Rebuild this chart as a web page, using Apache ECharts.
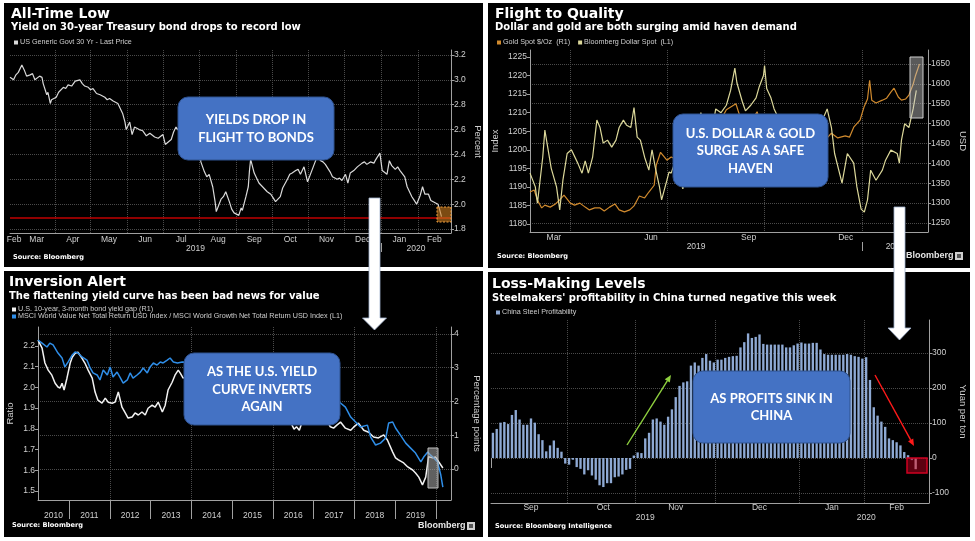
<!DOCTYPE html>
<html><head><meta charset="utf-8">
<script src="https://cdn.jsdelivr.net/npm/echarts@6.0.0/dist/echarts.min.js"></script>
<style>html,body{margin:0;padding:0;background:#fff}#c{width:975px;height:541px}</style>
</head><body><div id="c"></div>
<script>
// ---------------- DATA ----------------
// Panel 1: US Generic Govt 30 Yr yield (%)
const tlYield = [
['2019-02-22',3.02],['2019-02-25',3.00],['2019-02-27',3.04],['2019-03-01',3.06],['2019-03-04',3.12],['2019-03-06',3.08],['2019-03-08',3.03],['2019-03-11',3.04],['2019-03-13',3.05],['2019-03-15',3.00],['2019-03-19',3.03],['2019-03-21',3.02],['2019-03-22',2.97],['2019-03-25',2.88],['2019-03-26',2.90],['2019-03-28',2.81],['2019-03-29',2.84],['2019-04-02',2.86],['2019-04-04',2.90],['2019-04-08',2.94],['2019-04-10',2.93],['2019-04-12',2.96],['2019-04-15',2.95],['2019-04-18',2.99],['2019-04-22',3.00],['2019-04-24',2.97],['2019-04-26',2.95],['2019-04-29',2.94],['2019-05-01',2.92],['2019-05-03',2.93],['2019-05-06',2.89],['2019-05-09',2.88],['2019-05-13',2.86],['2019-05-15',2.84],['2019-05-17',2.85],['2019-05-20',2.83],['2019-05-22',2.82],['2019-05-24',2.81],['2019-05-28',2.73],['2019-05-30',2.66],['2019-05-31',2.60],['2019-06-03',2.66],['2019-06-05',2.56],['2019-06-07',2.62],['2019-06-11',2.60],['2019-06-14',2.59],['2019-06-17',2.55],['2019-06-20',2.57],['2019-06-24',2.54],['2019-06-27',2.53],['2019-07-01',2.56],['2019-07-03',2.48],['2019-07-08',2.52],['2019-07-10',2.58],['2019-07-12',2.62],['2019-07-17',2.56],['2019-07-19',2.60],['2019-07-24',2.62],['2019-07-26',2.59],['2019-07-30',2.55],['2019-08-01',2.48],['2019-08-02',2.34],['2019-08-05',2.26],['2019-08-07',2.22],['2019-08-09',2.24],['2019-08-12',2.14],['2019-08-14',2.02],['2019-08-15',1.94],['2019-08-19',2.04],['2019-08-21',2.06],['2019-08-23',2.10],['2019-08-26',2.02],['2019-08-28',1.96],['2019-08-30',1.93],['2019-09-03',1.91],['2019-09-05',1.97],['2019-09-06',1.95],['2019-09-09',2.06],['2019-09-11',2.14],['2019-09-12',2.27],['2019-09-13',2.36],['2019-09-16',2.25],['2019-09-18',2.21],['2019-09-20',2.17],['2019-09-23',2.14],['2019-09-25',2.12],['2019-09-27',2.10],['2019-09-30',2.08],['2019-10-02',2.05],['2019-10-04',2.02],['2019-10-08',2.06],['2019-10-10',2.13],['2019-10-14',2.20],['2019-10-16',2.24],['2019-10-18',2.25],['2019-10-21',2.27],['2019-10-23',2.28],['2019-10-25',2.24],['2019-10-28',2.30],['2019-10-31',2.18],['2019-11-04',2.28],['2019-11-06',2.33],['2019-11-08',2.38],['2019-11-11',2.35],['2019-11-13',2.34],['2019-11-15',2.32],['2019-11-19',2.26],['2019-11-21',2.22],['2019-11-25',2.20],['2019-11-27',2.21],['2019-11-29',2.19],['2019-12-02',2.24],['2019-12-04',2.17],['2019-12-06',2.25],['2019-12-09',2.27],['2019-12-12',2.30],['2019-12-16',2.33],['2019-12-18',2.34],['2019-12-20',2.32],['2019-12-23',2.34],['2019-12-26',2.33],['2019-12-27',2.35],['2019-12-31',2.41],['2020-01-02',2.27],['2020-01-06',2.24],['2020-01-08',2.35],['2020-01-10',2.31],['2020-01-13',2.28],['2020-01-15',2.30],['2020-01-17',2.27],['2020-01-21',2.22],['2020-01-23',2.14],['2020-01-27',2.06],['2020-01-29',2.03],['2020-01-31',2.00],['2020-02-03',2.07],['2020-02-05',2.14],['2020-02-07',2.08],['2020-02-10',2.08],['2020-02-12',2.03],['2020-02-14',2.02],['2020-02-18',2.00],['2020-02-19',1.97],['2020-02-21',1.90]
];
const tlRecordLine = 1.886;
const tlYTicks = [1.8,2.0,2.2,2.4,2.6,2.8,3.0,3.2];
const tlMonthTicks = ['2019-02','2019-03','2019-04','2019-05','2019-06','2019-07','2019-08','2019-09','2019-10','2019-11','2019-12','2020-01','2020-02'];
const tlGridDates = ['2019-04-01','2019-05-01','2019-06-01','2019-07-01','2019-08-01','2019-09-01','2019-10-01','2019-11-01','2019-12-01','2020-01-01','2020-02-01'];
const tlYears = [2019,2020];

// Panel 2: Gold spot (USD, R1) and Bloomberg Dollar Spot (index, L1)
const trGold = [
['2019-02-22',1328],['2019-02-26',1333],['2019-03-01',1308],['2019-03-05',1288],['2019-03-08',1295],['2019-03-13',1290],['2019-03-18',1298],['2019-03-22',1308],['2019-03-26',1320],['2019-04-01',1300],['2019-04-05',1295],['2019-04-10',1300],['2019-04-15',1290],['2019-04-19',1283],['2019-04-24',1288],['2019-04-29',1288],['2019-05-03',1280],['2019-05-08',1290],['2019-05-13',1298],['2019-05-17',1283],['2019-05-22',1278],['2019-05-27',1283],['2019-05-31',1293],['2019-06-05',1318],['2019-06-10',1313],['2019-06-14',1328],['2019-06-19',1345],['2019-06-21',1396],['2019-06-25',1428],['2019-07-01',1408],['2019-07-05',1416],['2019-07-10',1410],['2019-07-18',1445],['2019-07-25',1425],['2019-08-01',1440],['2019-08-07',1500],['2019-08-13',1515],['2019-08-20',1505],['2019-08-26',1535],['2019-09-04',1550],['2019-09-10',1500],['2019-09-18',1505],['2019-09-24',1530],['2019-09-30',1472],['2019-10-07',1495],['2019-10-15',1480],['2019-10-25',1505],['2019-11-01',1512],['2019-11-08',1460],['2019-11-14',1470],['2019-11-22',1462],['2019-11-29',1464],['2019-12-03',1476],['2019-12-09',1464],['2019-12-16',1469],['2019-12-20',1466],['2019-12-24',1491],['2019-12-30',1509],['2020-01-03',1544],['2020-01-06',1562],['2020-01-08',1609],['2020-01-10',1559],['2020-01-14',1552],['2020-01-20',1559],['2020-01-24',1564],['2020-01-28',1579],['2020-01-31',1589],['2020-02-04',1567],['2020-02-07',1559],['2020-02-11',1562],['2020-02-14',1572],['2020-02-18',1599],['2020-02-20',1619],['2020-02-24',1650]
];
const trDollar = [
['2019-02-22',1193.7],['2019-02-27',1190.0],['2019-03-01',1185.6],['2019-03-06',1198.0],['2019-03-08',1205.3],['2019-03-14',1195.0],['2019-03-19',1190.0],['2019-03-22',1183.8],['2019-03-25',1191.8],['2019-03-29',1199.0],['2019-04-02',1200.0],['2019-04-08',1196.4],['2019-04-12',1193.7],['2019-04-15',1197.0],['2019-04-18',1193.7],['2019-04-22',1198.0],['2019-04-26',1208.0],['2019-04-29',1206.0],['2019-05-02',1201.8],['2019-05-06',1202.6],['2019-05-10',1200.7],['2019-05-14',1202.6],['2019-05-17',1206.0],['2019-05-21',1208.0],['2019-05-24',1206.6],['2019-05-28',1206.0],['2019-05-31',1211.4],['2019-06-03',1203.4],['2019-06-06',1202.6],['2019-06-10',1198.0],['2019-06-14',1194.5],['2019-06-17',1200.0],['2019-06-20',1195.3],['2019-06-24',1190.0],['2019-06-26',1186.5],['2019-07-01',1191.8],['2019-07-03',1194.0],['2019-07-05',1193.7],['2019-07-09',1197.0],['2019-07-12',1194.0],['2019-07-16',1189.5],['2019-07-19',1193.0],['2019-07-24',1199.0],['2019-07-29',1203.0],['2019-08-02',1210.0],['2019-08-06',1205.0],['2019-08-09',1208.0],['2019-08-13',1206.0],['2019-08-16',1211.0],['2019-08-21',1210.0],['2019-08-26',1212.0],['2019-08-30',1216.0],['2019-09-03',1222.0],['2019-09-05',1218.0],['2019-09-10',1213.0],['2019-09-13',1210.5],['2019-09-18',1212.0],['2019-09-23',1214.0],['2019-09-26',1217.0],['2019-09-30',1220.0],['2019-10-01',1222.7],['2019-10-03',1216.5],['2019-10-07',1214.0],['2019-10-10',1211.0],['2019-10-15',1208.0],['2019-10-18',1204.0],['2019-10-23',1205.0],['2019-10-28',1203.0],['2019-10-31',1200.0],['2019-11-05',1204.0],['2019-11-12',1207.0],['2019-11-19',1206.0],['2019-11-26',1209.0],['2019-11-29',1211.0],['2019-12-03',1206.0],['2019-12-06',1199.0],['2019-12-13',1191.0],['2019-12-18',1199.0],['2019-12-24',1196.4],['2019-12-27',1190.0],['2019-12-31',1184.0],['2020-01-03',1183.2],['2020-01-06',1186.5],['2020-01-09',1194.5],['2020-01-14',1191.8],['2020-01-20',1194.5],['2020-01-23',1197.2],['2020-01-28',1199.9],['2020-02-03',1199.0],['2020-02-05',1196.4],['2020-02-07',1202.6],['2020-02-10',1207.0],['2020-02-14',1206.0],['2020-02-18',1211.0],['2020-02-21',1216.0]
];
const trLeftTicks = [1180,1185,1190,1195,1200,1205,1210,1215,1220,1225];
const trRightTicks = [1250,1300,1350,1400,1450,1500,1550,1600,1650];
const trMonthTicks = ['2019-03','2019-06','2019-09','2019-12'];
const trGridDates = ['2019-04-01','2019-07-01','2019-10-01','2020-01-01'];
const trYears = [2019,2020];

// Panel 3: 10y-3m yield gap (pp, R1) and MSCI Value/Growth ratio (L1), x = decimal year
const blGap = [
[2010.24,3.82],[2010.34,3.58],[2010.41,3.14],[2010.49,2.93],[2010.58,2.78],[2010.66,2.54],[2010.73,2.43],[2010.78,2.40],[2010.83,2.54],[2010.88,2.34],[2010.95,2.69],[2011.03,3.14],[2011.08,3.31],[2011.15,3.43],[2011.22,3.46],[2011.32,3.28],[2011.39,3.14],[2011.47,2.93],[2011.57,2.69],[2011.64,2.28],[2011.71,2.04],[2011.81,1.95],[2011.89,2.10],[2011.96,1.98],[2012.06,1.95],[2012.13,1.98],[2012.21,2.28],[2012.30,1.83],[2012.38,1.66],[2012.45,1.51],[2012.55,1.54],[2012.62,1.66],[2012.70,1.60],[2012.79,1.69],[2012.87,1.60],[2012.94,1.80],[2013.04,1.89],[2013.11,1.83],[2013.19,1.98],[2013.29,1.69],[2013.36,1.89],[2013.43,2.34],[2013.53,2.57],[2013.60,2.78],[2013.68,2.93],[2013.73,2.84],[2013.80,2.69],[2013.90,2.75],[2014.00,2.90],[2014.20,2.70],[2014.40,2.55],[2014.60,2.40],[2014.80,2.25],[2015.00,1.95],[2015.20,1.90],[2015.40,2.20],[2015.60,2.10],[2015.80,2.05],[2016.00,1.95],[2016.20,1.65],[2016.38,1.50],[2016.45,1.35],[2016.52,1.18],[2016.58,1.25],[2016.65,1.15],[2016.72,1.40],[2016.80,1.60],[2016.95,2.15],[2017.10,2.10],[2017.25,1.60],[2017.35,1.38],[2017.41,1.25],[2017.49,1.21],[2017.57,1.30],[2017.66,1.39],[2017.78,1.21],[2017.91,1.15],[2017.98,1.24],[2018.10,1.36],[2018.23,1.15],[2018.35,1.09],[2018.47,0.95],[2018.59,0.92],[2018.72,1.01],[2018.81,0.86],[2018.94,0.50],[2019.01,0.33],[2019.08,0.27],[2019.21,0.18],[2019.31,0.06],[2019.43,-0.03],[2019.50,-0.12],[2019.58,-0.24],[2019.67,-0.47],[2019.75,-0.24],[2019.82,0.36],[2019.92,0.33],[2019.99,0.36],[2020.07,0.21],[2020.17,0.03]
];
const blRatio = [
[2010.24,2.229],[2010.34,2.214],[2010.46,2.195],[2010.53,2.214],[2010.61,2.205],[2010.73,2.166],[2010.83,2.142],[2010.90,2.099],[2010.98,2.123],[2011.08,2.157],[2011.15,2.171],[2011.22,2.166],[2011.32,2.147],[2011.44,2.132],[2011.52,2.094],[2011.59,2.070],[2011.69,2.060],[2011.76,2.036],[2011.84,2.084],[2011.94,2.060],[2012.01,2.099],[2012.08,2.050],[2012.18,2.074],[2012.25,2.050],[2012.33,2.021],[2012.43,2.036],[2012.50,2.070],[2012.57,2.045],[2012.67,2.060],[2012.75,2.074],[2012.82,2.094],[2012.92,2.070],[2012.99,2.099],[2013.07,2.118],[2013.16,2.108],[2013.24,2.123],[2013.31,2.118],[2013.41,2.132],[2013.48,2.142],[2013.56,2.123],[2013.66,2.118],[2013.78,2.123],[2014.00,2.120],[2014.30,2.100],[2014.60,2.110],[2014.90,2.070],[2015.20,2.050],[2015.50,2.020],[2015.80,1.990],[2016.10,1.970],[2016.40,1.940],[2016.70,1.960],[2016.90,2.020],[2017.10,2.010],[2017.30,1.970],[2017.50,1.940],[2017.66,1.925],[2017.78,1.905],[2017.91,1.857],[2018.03,1.833],[2018.15,1.809],[2018.32,1.818],[2018.40,1.760],[2018.52,1.722],[2018.64,1.731],[2018.77,1.756],[2018.84,1.828],[2018.94,1.833],[2019.01,1.804],[2019.13,1.770],[2019.26,1.731],[2019.38,1.707],[2019.50,1.683],[2019.63,1.640],[2019.70,1.664],[2019.80,1.688],[2019.87,1.673],[2019.95,1.659],[2020.04,1.640],[2020.12,1.577],[2020.17,1.519]
];
const blLeftTicks = [1.5,1.6,1.7,1.8,1.9,2.0,2.1,2.2];
const blRightTicks = [0,1,2,3,4];
const blLabelYears = [2010,2011,2012,2013,2014,2015,2016,2017,2018,2019];
const blYearTicks = [2011,2012,2013,2014,2015,2016,2017,2018,2019,2020];
const blGridYears = [2012,2014,2016,2018,2020];

// Panel 4: China steel profitability (yuan per ton), one bar per trading day
const brMonths = [['Sep',2019,20],['Oct',2019,18],['Nov',2019,21],['Dec',2019,22],['Jan',2020,17],['Feb',2020,14]];
const brPadSlots = 3;
const brProfit = [72,83,101,103,97,123,137,110,95,95,113,101,68,51,19,36,50,29,18,-16,
 -19,-5,-26,-31,-47,-35,-50,-62,-78,-83,-72,-72,-55,-53,-47,-34,-31,7,
 16,14,56,72,110,113,104,95,118,139,174,206,216,219,264,273,264,286,297,278,273,
 281,281,286,289,291,292,316,331,356,343,346,353,326,324,324,324,324,324,316,316,322,327,
 330,327,327,329,329,310,297,295,295,295,295,295,297,295,291,289,284,
 288,223,145,121,104,89,56,51,45,36,17,8,-6,-32];
const brYTicks = [-100,0,100,200,300];

// ---------------- HELPERS ----------------
const MONTHS = ['Jan','Feb','Mar','Apr','May','Jun','Jul','Aug','Sep','Oct','Nov','Dec'];
const T = s => Date.parse(s);
const midSpan = (s,e,min,max) => (Math.max(s,min)+Math.min(e,max))/2;
function monthLabels(list,min,max){const pos=[],map=new Map();list.forEach(ym=>{const [y,m]=ym.split('-').map(Number);const p=midSpan(Date.UTC(y,m-1,1),Date.UTC(y,m,1),min,max);pos.push(p);map.set(p,MONTHS[m-1]);});return {pos,map};}
function yearLabels(list,min,max){const pos=[],map=new Map();list.forEach(y=>{const p=midSpan(Date.UTC(y,0,1),Date.UTC(y+1,0,1),min,max);pos.push(p);map.set(p,String(y));});return {pos,map};}

const AX='#a0a0a0', LBL='#cfcfcf', GRIDC='#4a4a4a';
const FONT='"Liberation Sans", Arial, sans-serif';
const TFONT='"DejaVu Sans", sans-serif';
const gridStyle={color:GRIDC,type:'dotted',width:1};
const baseLabel={color:LBL,fontSize:8.5,fontFamily:FONT};

const tlMin=T('2019-02-22'), tlMax=T('2020-02-29');
const trMin=T('2019-02-22'), trMax=T('2020-03-03');
const blMin=2010.24, blMax=2020.37;

const tlM=monthLabels(tlMonthTicks,tlMin,tlMax), tlY=yearLabels(tlYears,tlMin,tlMax);
const trM=monthLabels(trMonthTicks,trMin,trMax), trY=yearLabels(trYears,trMin,trMax);
const tlGrid=tlGridDates.map(T), trGrid=trGridDates.map(T);
const tlSep=[Date.UTC(2020,0,1)], trSep=[Date.UTC(2020,0,1)];
const blLab=new Map(); const blLabPos=blLabelYears.map(y=>{const p=(Math.max(y,blMin)+Math.min(y+1,blMax))/2; blLab.set(p,String(y)); return p;});

// BR categories
const brCats=[], brMonthStart=new Set(), brLabelIdx=new Set(), brYearLabelIdx=new Set(), brYearSep=new Set();
const yearSpan={};
brMonths.forEach((mm,k)=>{const n=mm[2]+(k===brMonths.length-1?brPadSlots:0);const s=brCats.length;brMonthStart.add(s);brLabelIdx.add(s+Math.floor(n/2));
 if(!yearSpan[mm[1]]) {yearSpan[mm[1]]=[s,s]; if(s>0) brYearSep.add(s);}
 for(let j=0;j<n;j++) brCats.push(mm[0]+'|'+mm[1]+'|'+j);
 yearSpan[mm[1]][1]=brCats.length-1;});
Object.values(yearSpan).forEach(r=>brYearLabelIdx.add(Math.round((r[0]+r[1])/2)));

function yAx(grid,pos,min,max,ticks,step,fmt,split,opt){
 return Object.assign({type:'value',gridIndex:grid,position:pos,min,max,minInterval:step,maxInterval:step,
  axisLine:{show:true,onZero:false,lineStyle:{color:AX}},
  axisTick:{show:true,length:3,customValues:ticks,lineStyle:{color:AX}},
  axisLabel:Object.assign({},baseLabel,{margin:3,customValues:ticks,formatter:fmt}),
  splitLine:split?{show:true,customValues:ticks,lineStyle:gridStyle}:{show:false},
  nameLocation:'middle',nameTextStyle:{color:LBL,fontSize:9.5,fontFamily:FONT}},opt||{});
}

const xAxes=[
 {type:'value',gridIndex:0,position:'bottom',min:tlMin,max:tlMax,
  axisLine:{show:true,onZero:false,lineStyle:{color:AX}},axisTick:{show:false,customValues:tlGrid},
  splitLine:{show:true,customValues:tlGrid,lineStyle:gridStyle},
  axisLabel:Object.assign({},baseLabel,{margin:2,customValues:tlM.pos,formatter:v=>tlM.map.get(v)||''})},
 {type:'value',gridIndex:0,position:'bottom',offset:10,min:tlMin,max:tlMax,
  axisLine:{show:false},axisTick:{show:true,length:9,customValues:tlSep,lineStyle:{color:AX}},splitLine:{show:false},
  axisLabel:Object.assign({},baseLabel,{margin:1,customValues:tlY.pos,formatter:v=>tlY.map.get(v)||''})},
 {type:'value',gridIndex:1,position:'bottom',min:trMin,max:trMax,
  axisLine:{show:true,onZero:false,lineStyle:{color:AX}},axisTick:{show:false,customValues:trGrid},
  splitLine:{show:true,customValues:trGrid,lineStyle:gridStyle},
  axisLabel:Object.assign({},baseLabel,{margin:1,customValues:trM.pos,formatter:v=>trM.map.get(v)||''})},
 {type:'value',gridIndex:1,position:'bottom',offset:10,min:trMin,max:trMax,
  axisLine:{show:false},axisTick:{show:true,length:9,customValues:trSep,lineStyle:{color:AX}},splitLine:{show:false},
  axisLabel:Object.assign({},baseLabel,{margin:0,customValues:trY.pos,formatter:v=>trY.map.get(v)||''})},
 {type:'value',gridIndex:2,position:'bottom',min:blMin,max:blMax,
  axisLine:{show:true,onZero:false,lineStyle:{color:AX}},axisTick:{show:true,length:19,customValues:blYearTicks,lineStyle:{color:AX}},
  splitLine:{show:false},
  axisLabel:Object.assign({},baseLabel,{margin:11,customValues:blLabPos,formatter:v=>blLab.get(v)||''})},
 {type:'value',gridIndex:2,position:'bottom',min:blMin,max:blMax,
  axisLine:{show:false},axisTick:{show:false,customValues:blGridYears},axisLabel:{show:false},
  splitLine:{show:true,customValues:blGridYears,lineStyle:gridStyle}},
 {type:'category',gridIndex:3,position:'bottom',data:brCats,boundaryGap:true,
  axisLine:{show:true,onZero:false,lineStyle:{color:AX}},axisTick:{show:false},
  splitLine:{show:true,interval:(i)=>brMonthStart.has(i)&&i>0,lineStyle:gridStyle},
  axisLabel:Object.assign({},baseLabel,{margin:0,interval:(i)=>brLabelIdx.has(i),formatter:v=>v.split('|')[0]})},
 {type:'category',gridIndex:3,position:'bottom',offset:9,data:brCats,boundaryGap:true,
  axisLine:{show:false},axisTick:{show:true,length:10,interval:(i)=>brYearSep.has(i),lineStyle:{color:AX}},
  splitLine:{show:false},
  axisLabel:Object.assign({},baseLabel,{margin:1,interval:(i)=>brYearLabelIdx.has(i),formatter:v=>v.split('|')[1]})}
];

const yAxes=[
 yAx(0,'right',1.768,3.240,tlYTicks,0.2,v=>v.toFixed(1),true,{name:'Percent',nameRotate:-90,nameGap:22}),
 yAx(1,'left',1177.84,1226.89,trLeftTicks,5,v=>String(v),false,{name:'Index',nameRotate:90,nameGap:30}),
 yAx(1,'right',1227.4,1685.2,trRightTicks,50,v=>String(v),true,{name:'USD',nameRotate:-90,nameGap:30}),
 yAx(2,'left',1.4565,2.2917,blLeftTicks,0.1,v=>v.toFixed(1),false,{name:'Ratio',nameRotate:90,nameGap:23}),
 yAx(2,'right',-0.9185,4.207,blRightTicks,1,v=>String(v),true,{name:'Percentage points',nameRotate:-90,nameGap:21}),
 yAx(3,'right',-128.6,394.3,brYTicks,100,v=>String(v),true,{name:'Yuan per ton',nameRotate:-90,nameGap:29})
];

const N1='US Generic Govt 30 Yr - Last Price', N2='Gold Spot $/Oz  (R1)', N3='Bloomberg Dollar Spot  (L1)',
 N4='U.S. 10-year, 3-month bond yield gap (R1)', N5='MSCI World Value Net Total Return USD Index / MSCI World Growth Net Total Return USD Index (L1)', N6='China Steel Profitability';

const lineBase={type:'line',showSymbol:false,symbol:'none',animation:false,silent:true};
const series=[
 Object.assign({},lineBase,{name:N1,xAxisIndex:0,yAxisIndex:0,data:tlYield.map(d=>[T(d[0]),d[1]]),color:'#d9d9d9',lineStyle:{width:1.2,color:'#d9d9d9'},
  markLine:{silent:true,symbol:['none','none'],label:{show:false},lineStyle:{color:'#c00000',width:1.5,type:'solid'},data:[{yAxis:tlRecordLine}]}}),
 Object.assign({},lineBase,{name:N2,xAxisIndex:2,yAxisIndex:2,data:trGold.map(d=>[T(d[0]),d[1]]),color:'#d08a2e',lineStyle:{width:1.2,color:'#d08a2e'}}),
 Object.assign({},lineBase,{name:N3,xAxisIndex:2,yAxisIndex:1,data:trDollar.map(d=>[T(d[0]),d[1]]),color:'#dcd89a',lineStyle:{width:1.2,color:'#dcd89a'}}),
 Object.assign({},lineBase,{name:N4,xAxisIndex:4,yAxisIndex:4,data:blGap,color:'#f2f2f2',lineStyle:{width:1.5,color:'#f2f2f2'}}),
 Object.assign({},lineBase,{name:N5,xAxisIndex:4,yAxisIndex:3,data:blRatio,color:'#2f8ee8',lineStyle:{width:1.5,color:'#2f8ee8'}}),
 {type:'bar',name:N6,xAxisIndex:6,yAxisIndex:5,data:brProfit,barWidth:'62%',animation:false,silent:true,color:'#8ea9d3',
  itemStyle:{color:p=>p.dataIndex===brProfit.length-1?'#d9cfdc':'#8ea9d3'}}
];

const legBase={icon:'rect',itemWidth:4,itemHeight:4,selectedMode:false,padding:0,itemGap:8,
 textStyle:{color:'#cfcfcf',fontSize:7.2,fontFamily:FONT,padding:[0,0,0,-3]}};
const legends=[
 Object.assign({},legBase,{data:[N1],left:14,top:39}),
 Object.assign({},legBase,{data:[N2,N3],left:497,top:39}),
 Object.assign({},legBase,{data:[N4,N5],left:12,top:306,orient:'vertical',itemGap:0}),
 Object.assign({},legBase,{data:[N6],left:496,top:309})
];

// ---------------- GRAPHICS (frames, titles, annotations) ----------------
const g=[];
const rect=(x,y,w,h,style,z,r)=>g.push({type:'rect',silent:true,z:z||50,shape:{x,y,width:w,height:h,r:r||0},style});
const txt=(x,y,text,font,fill,align,z,lh)=>g.push({type:'text',silent:true,z:z||60,style:{x,y,text,font,fill,textAlign:align||'left',align:align||'left',textVerticalAlign:'middle',verticalAlign:'middle',lineHeight:lh}});
[[0,0,975,3],[0,0,4,541],[970,0,5,541],[0,537,975,4],[483,0,5,541],[0,267,483,4],[488,268,487,4]].forEach(r=>rect(r[0],r[1],r[2],r[3],{fill:'#fff'},50));

const TF='bold 14px '+TFONT, SF='bold 10px '+TFONT, SRC='bold 6.6px '+TFONT;
txt(11,14,'All-Time Low',TF,'#fff');
txt(11,27.5,'Yield on 30-year Treasury bond drops to record low',SF,'#fff');
txt(13,257.5,'Source: Bloomberg',SRC,'#fff');
txt(495,14,'Flight to Quality',TF,'#fff');
txt(495,27.5,'Dollar and gold are both surging amid haven demand',SF,'#fff');
txt(497,256.5,'Source: Bloomberg',SRC,'#fff');
txt(9,282.5,'Inversion Alert',TF,'#fff');
txt(9,296.5,'The flattening yield curve has been bad news for value',SF,'#fff');
txt(12,525.5,'Source: Bloomberg',SRC,'#fff');
txt(492,284,'Loss-Making Levels',TF,'#fff');
txt(492,298,"Steelmakers' profitability in China turned negative this week",SF,'#fff');
txt(495,526.5,'Source: Bloomberg Intelligence',SRC,'#fff');
// Bloomberg marks
function logo(x,y){txt(x,y,'Bloomberg','bold 9px '+FONT,'#e6e6e6');rect(x+49,y-4,8,8,{fill:'#cfcfcf'},60);rect(x+51,y-2,4,4,{fill:'#555'},61);}
logo(906,256); logo(418,526);

// annotation overlays
const BLUE={fill:'#4472c4',stroke:'#2f528f',lineWidth:1};
const BF='bold 13px Lato, "Open Sans", sans-serif';
rect(178,97,156,63,BLUE,100,10); txt(256,129,'YIELDS DROP IN\nFLIGHT TO BONDS',BF,'#fff','center',101,18);
rect(673,114,155,73,BLUE,100,10); txt(750.5,151,'U.S. DOLLAR & GOLD\nSURGE AS A SAFE\nHAVEN',BF,'#fff','center',101,17.5);
rect(184,353,156,72,BLUE,100,10); txt(262,389.5,'AS THE U.S. YIELD\nCURVE INVERTS\nAGAIN',BF,'#fff','center',101,17.5);
rect(693,371,157,72,BLUE,100,10); txt(771.5,407,'AS PROFITS SINK IN\nCHINA',BF,'#fff','center',101,17);
// highlight boxes
rect(437,207,14,15,{fill:'rgba(205,125,30,0.6)',stroke:'#f0a040',lineWidth:1,lineDash:[2,1.5]},90);
rect(910,57,13,61,{fill:'rgba(200,200,200,0.45)',stroke:'#d0d0d0',lineWidth:1},90);
rect(428,448,10,40,{fill:'rgba(175,175,175,0.55)',stroke:'#c0c0c0',lineWidth:1},90);
rect(907,458,20,15,{fill:'rgba(170,0,30,0.55)',stroke:'#d00020',lineWidth:1.5},90);
// white block arrows
function blockArrow(x1,x2,yTop,yHeadBase,yTip,hw){const cx=(x1+x2)/2;
 g.push({type:'polygon',silent:true,z:110,shape:{points:[[x1,yTop],[x2,yTop],[x2,yHeadBase],[cx+hw,yHeadBase],[cx,yTip],[cx-hw,yHeadBase],[x1,yHeadBase]]},style:{fill:'#fff',stroke:'#9fb0cc',lineWidth:0.8}});}
blockArrow(369,380,198,318,330,12);
blockArrow(894,905,207,328,340,11.5);
// thin arrows
function thinArrow(x1,y1,x2,y2,color){const dx=x2-x1,dy=y2-y1,L=Math.hypot(dx,dy),ux=dx/L,uy=dy/L,bx=x2-7*ux,by=y2-7*uy,nx=-uy,ny=ux;
 g.push({type:'line',silent:true,z:110,shape:{x1,y1,x2:bx,y2:by},style:{stroke:color,lineWidth:1.4}});
 g.push({type:'polygon',silent:true,z:110,shape:{points:[[x2,y2],[bx+3*nx,by+3*ny],[bx-3*nx,by-3*ny]]},style:{fill:color}});}
thinArrow(627,445,671,375,'#8fd13f');
thinArrow(875,375,914,446,'#ff1a1a');

const chart=echarts.init(document.getElementById('c'),null,{renderer:'canvas'});
chart.setOption({
 animation:false,backgroundColor:'#000',
 grid:[
  {left:10,top:50,width:441,height:183,containLabel:false,outerBoundsMode:'none'},
  {left:530,top:50,width:398,height:182,containLabel:false,outerBoundsMode:'none'},
  {left:38,top:327,width:413,height:173,containLabel:false,outerBoundsMode:'none'},
  {left:491,top:320,width:438,height:183,containLabel:false,outerBoundsMode:'none'}
 ],
 xAxis:xAxes, yAxis:yAxes, legend:legends, series, graphic:{elements:g}
});
</script></body></html>
